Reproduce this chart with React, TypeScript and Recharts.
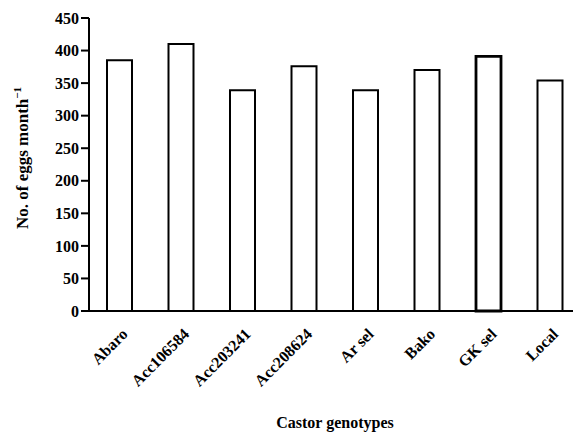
import React from "react";
import { BarChart, Bar, XAxis, YAxis, Cell, Label } from "recharts";

const genotypes = [
  "Abaro",
  "Acc106584",
  "Acc203241",
  "Acc208624",
  "Ar sel",
  "Bako",
  "GK sel",
  "Local",
];
const eggs = [385, 410, 339, 376, 339, 370, 391, 354];
const yTicks = [0, 50, 100, 150, 200, 250, 300, 350, 400, 450];
const boundaryTicks = [0, 1, 2, 3, 4, 5, 6, 7, 8];

const data = genotypes.map((name, i) => ({ name, eggs: eggs[i], pos: i }));

const FONT = "'Liberation Serif', 'Times New Roman', serif";
const textStyle = { fontFamily: FONT, fontSize: 16, fontWeight: 700, fill: "#000" };

const GenotypeTick = (props: any) => {
  const { x, y, payload } = props;
  const ax = x + 9;
  const ay = y + 14;
  return (
    <text
      x={ax}
      y={ay}
      transform={`rotate(-45, ${ax}, ${ay})`}
      textAnchor="end"
      style={textStyle}
    >
      {payload.value}
    </text>
  );
};

const YLabel = () => (
  <text
    x={28}
    y={158}
    transform="rotate(-90, 28, 158)"
    textAnchor="middle"
    style={{ ...textStyle, fontSize: 17 }}
  >
    No. of eggs month
    <tspan dy={-7} style={{ fontSize: 11 }}>
      −1
    </tspan>
  </text>
);

export default function App() {
  return (
    <div
      style={{
        position: "fixed",
        left: 0,
        top: 0,
        width: 573,
        height: 433,
        overflow: "hidden",
        background: "#fff",
      }}
    >
      <BarChart
        width={600}
        height={433}
        data={data}
        margin={{ top: 18, right: 19, bottom: 0, left: 0 }}
        barSize={25}
      >
        <XAxis
          xAxisId="bounds"
          type="number"
          dataKey="pos"
          domain={[0, 8]}
          ticks={boundaryTicks}
          tick={false}
          axisLine={false}
          tickSize={7}
          tickLine={{ stroke: "#000", strokeWidth: 2 }}
          height={0}
          allowDataOverflow
        />
        <XAxis
          dataKey="name"
          interval={0}
          height={122}
          tickLine={false}
          tickSize={8}
          axisLine={{ stroke: "#000", strokeWidth: 2 }}
          tick={<GenotypeTick />}
        >
          <Label
            value="Castor genotypes"
            position="insideBottom"
            offset={5}
            style={textStyle}
          />
        </XAxis>
        <YAxis
          width={89}
          domain={[0, 450]}
          ticks={yTicks}
          interval={0}
          tickSize={8}
          tickMargin={2}
          axisLine={{ stroke: "#000", strokeWidth: 2 }}
          tickLine={{ stroke: "#000", strokeWidth: 2 }}
          tick={{ style: textStyle, fill: "#000" }}
          label={<YLabel />}
        />
        <Bar
          dataKey="eggs"
          fill="#fff"
          stroke="#000"
          strokeWidth={2}
          isAnimationActive={false}
        >
          {data.map((d) => (
            <Cell
              key={d.name}
              strokeWidth={d.name === "GK sel" ? 2.8 : 2}
            />
          ))}
        </Bar>
      </BarChart>
    </div>
  );
}
